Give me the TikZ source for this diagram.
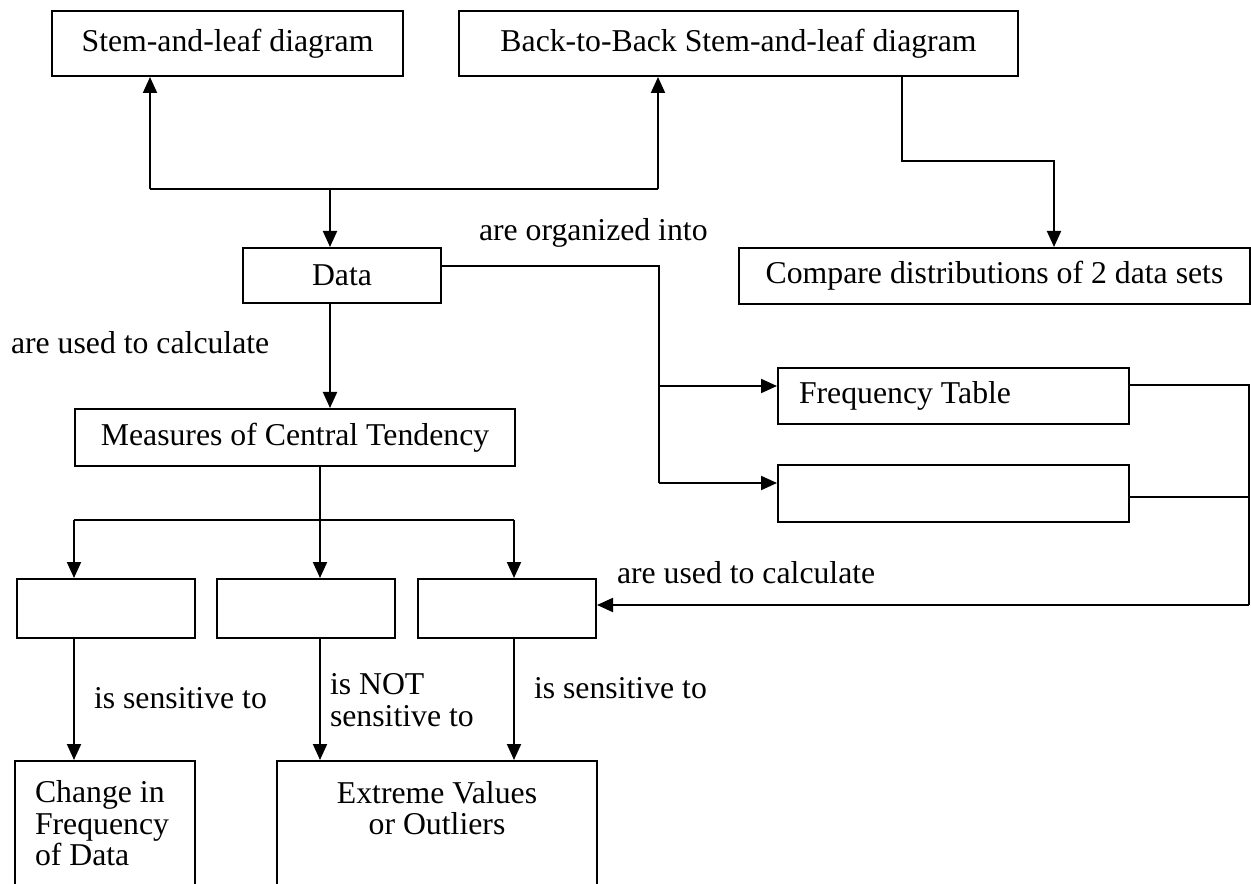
\documentclass[tikz,border=0pt]{standalone}
\usepackage{fontspec}
\setmainfont{Liberation Serif}
\usetikzlibrary{positioning,arrows.meta}

\begin{document}
\begin{tikzpicture}[%
    x=0.4pt,
    y=-0.4pt,
    >={Triangle[length=6.4pt,width=5.6pt]},
    line width=0.8pt,
    font=\fontsize{12.7}{12.6}\selectfont,
    box/.style={%
      draw,
      inner sep=0pt,
      anchor=north west
    },
    lbl/.style={%
      inner sep=0pt,
      anchor=west,
      align=flush left
    }
  ]
    \useasboundingbox (0,0) rectangle (1251,884);

    % boxes
    \node[box, minimum width=140.4pt, minimum height=26pt] (stem) at (51,10) {Stem-and-leaf diagram};
    \node[box, minimum width=223.6pt, minimum height=26pt] (back) at (458,10) {Back-to-Back Stem-and-leaf diagram};
    \node[box, minimum width=79.2pt, minimum height=22pt] (data) at (242,247) {Data};
    \node[box, minimum width=204.4pt, minimum height=22.4pt] (compare) at (738,247) {Compare distributions of 2 data sets};
    \node[box, minimum width=176pt, minimum height=22.8pt] (measures) at (74,408) {Measures of Central Tendency};
    \node[box, minimum height=22.4pt, inner xsep=8.4pt, text width=123.6pt, align=flush left] (freq) at (777,367) {Frequency Table};
    \node[box, minimum width=140.4pt, minimum height=22.8pt] (blank) at (777,464) {};
    \node[box, minimum width=71.2pt, minimum height=23.6pt] (modebox) at (16,578) {};
    \node[box, minimum width=71.2pt, minimum height=23.6pt] (medianbox) at (216,578) {};
    \node[box, minimum width=71.2pt, minimum height=23.6pt] (meanbox) at (417,578) {};
    \node[box, minimum height=50pt, inner xsep=8pt, text width=56pt, align=flush left] (change) at (14,760) {Change in\\Frequency\\of Data};
    \node[box, minimum width=128pt, minimum height=50pt, align=flush center] (extreme) at (276,760) {Extreme Values\\or Outliers\\\mbox{}};

    % bends
    \coordinate (sl) at (150,189);
    \coordinate (sr) at (658,189);
    \coordinate (split) at (330,189);
    \coordinate (bk) at (902,161);
    \coordinate (cmp) at (1054,161);
    \coordinate (org) at (659,266);
    \coordinate (fa) at (659,386);
    \coordinate (ba) at (659,483);
    \coordinate (fo) at (1249,385);
    \coordinate (bo) at (1249,497);
    \coordinate (rt) at (1249,605);
    \coordinate (ml) at (74,520);
    \coordinate (mt) at (320,520);
    \coordinate (mr) at (514,520);

    % connectors
    \draw (sl) -- (sr);
    \draw[->] (sl) -- (sl |- stem.south);
    \draw[->] (sr) -- (sr |- back.south);
    \draw[->] (split) -- (split |- data.north);
    \draw[->] (bk |- back.south) -- (bk) -- (cmp) -- (cmp |- compare.north);
    \draw (org -| data.east) -- (org) -- (ba);
    \draw[->] (fa) -- (fa -| freq.west);
    \draw[->] (ba) -- (ba -| blank.west);
    \draw (fo -| freq.east) -- (fo) -- (rt);
    \draw (bo -| blank.east) -- (bo);
    \draw[->] (rt) -- (rt -| meanbox.east);
    \draw[->] (split |- data.south) -- (split |- measures.north);
    \draw (mt |- measures.south) -- (mt);
    \draw (ml) -- (mr);
    \draw[->] (ml) -- (ml |- modebox.north);
    \draw[->] (mt) -- (mt |- medianbox.north);
    \draw[->] (mr) -- (mr |- meanbox.north);
    \draw[->] (ml |- modebox.south) -- (ml |- change.north);
    \draw[->] (mt |- medianbox.south) -- (mt |- extreme.north);
    \draw[->] (mr |- meanbox.south) -- (mr |- extreme.north);

    % labels
    \node[lbl] (orglbl) at (478,233) {are organized into};
    \node[lbl] (calcl) at (10,343) {are used to calculate};
    \node[lbl] (calcr) at (616,573) {are used to calculate};
    \node[lbl] (sensl) at (93,698) {is sensitive to};
    \node[lbl] (notsens) at (329,700) {is NOT\\sensitive to};
    \node[lbl] (sensr) at (533,688) {is sensitive to};
  \end{tikzpicture}
\end{document}
